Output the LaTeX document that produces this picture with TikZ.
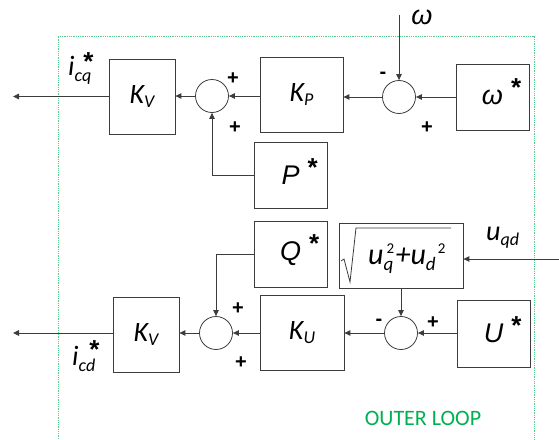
\documentclass[tikz,border=0pt]{standalone}
\usepackage{fontspec}
\setmainfont{Carlito}
\newfontfamily\arialf{Liberation Sans}
\usetikzlibrary{arrows.meta}
\newcommand\fsz[1]{\fontsize{#1}{#1}\selectfont}
\definecolor{lc}{RGB}{60,60,60}
\definecolor{gtext}{RGB}{0,176,80}
\definecolor{gframe}{RGB}{90,200,140}
\newcommand\Klab[1]{{\fsz{28}\itshape K\raisebox{-4.5pt}{\fsz{18}#1}}}
\newcommand\astr[1]{\raisebox{#1}{\arialf\bfseries\upshape\fsz{26}*}}
\newcommand\starlab[1]{{\arialf\itshape\fsz{27}#1\rlap{\smash{\hspace{8pt}\astr{8pt}}}}}
\newcommand\sqsub[3]{\makebox[#3][l]{\rlap{\raisebox{-6pt}{\fsz{19}#1}}\hspace{#2}\raisebox{11pt}{\upshape\fsz{15}2}}}
\begin{document}
\begin{tikzpicture}[x=1pt,y=-1pt,
  blk/.style={draw=lc,line width=0.8pt,inner sep=0pt,text=black},
  sumc/.style={circle,draw=lc,line width=0.8pt,minimum size=33pt,inner sep=0pt},
  arr/.style={draw=lc,line width=0.9pt,-{Triangle[length=6pt,width=5.5pt]}},
  sgn/.style={font=\arialf\bfseries\fsz{20},inner sep=0pt},
  lab/.style={inner sep=0pt}]
\useasboundingbox (0,0) rectangle (559,439);
% frame
\draw[gframe, densely dotted, line width=0.8pt] (58,439) -- (58,36) -- (534,36) -- (534,439);
% top row
\node[blk,minimum width=66pt,minimum height=75pt] (kv1) at (142,96.5) {\Klab{V}};
\node[blk,minimum width=83pt,minimum height=75pt] (kp) at (301.5,94.5) {\Klab{P}};
\node[blk,minimum width=73pt,minimum height=66pt] (ps) at (290.5,175) {\starlab{P}};
\node[blk,minimum width=73pt,minimum height=66pt] (ws) at (492.5,97) {\starlab{ω}};
\node[sumc] (s1) at (212,96) {};
\node[sumc] (s2) at (399,97) {};
% bottom row
\node[blk,minimum width=73pt,minimum height=66pt] (qs) at (290.5,254) {\starlab{Q}};
\node[blk,minimum width=124pt,minimum height=65pt] (sq) at (401,255.5) {};
\node[blk,minimum width=84pt,minimum height=75pt] (ku) at (302,332.5) {\Klab{U}};
\node[blk,minimum width=73pt,minimum height=67pt] (us) at (493.5,333.5) {\starlab{U}};
\node[sumc] (s4) at (401,333) {};
\node[sumc] (s3) at (216,333) {};
\node[blk,minimum width=66pt,minimum height=75pt] (kv2) at (146,334.5) {\Klab{V}};
% radical
\draw[lc,line width=0.8pt] (341,261) -- (344,259) -- (350,282) -- (356,228) -- (451,228);
\node[lab,anchor=base west] (rad) at (368,264) {\fsz{30}\itshape u\sqsub{q}{3pt}{12pt}+u\sqsub{d}{12pt}{22pt}};
% labels
\node[lab,anchor=base west] (icq) at (68,75) {\fsz{28}\itshape i\raisebox{-6pt}{\fsz{18}cq}\rlap{\smash{\hspace{-8pt}\astr{5pt}}}};
\node[lab,anchor=base west] (icd) at (72,365) {\fsz{28}\itshape i\raisebox{-6pt}{\fsz{18}cd}\rlap{\smash{\hspace{-6pt}\astr{7pt}}}};
\node[lab,anchor=base west] (uqd) at (486,240) {\fsz{28}\itshape u\raisebox{-5pt}{\fsz{18}qd}};
\node[lab] (wl) at (422,17) {\arialf\itshape\fsz{27}ω};
\node[text=gtext,font=\fsz{22},lab] (ol) at (423,418) {OUTER LOOP};
% signs
\node[sgn] (p1) at (233,79) {+};
\node[sgn] (p2) at (235,128) {+};
\node[sgn] (m1) at (383,75) {-};
\node[sgn] (p3) at (427,128) {+};
\node[sgn] (p4) at (238,309) {+};
\node[sgn] (p5) at (241,363) {+};
\node[sgn] (m2) at (379,322) {-};
\node[sgn] (p6) at (433,323) {+};
% connectors top
\coordinate (o1) at (13,96.5);
\coordinate (win) at (399,15);
\draw[arr] (s1.west) -- (s1.west -| kv1.east);
\draw[arr] (kv1.west) -- (o1);
\draw[arr] (kp.west |- s1.east) -- (s1.east);
\draw[arr] (ps.west) -| (s1.south);
\draw[arr] (win) -- (s2.north);
\draw[arr] (s2.west) -- (s2.west -| kp.east);
\draw[arr] (ws.west) -- (s2.east);
% connectors bottom
\coordinate (uin) at (559,259);
\coordinate (o2) at (13,333);
\draw[arr] (uin) -- (uin -| sq.east);
\draw[arr] (sq.south) -- (s4.north);
\draw[arr] (us.west |- s4.east) -- (s4.east);
\draw[arr] (s4.west) -- (s4.west -| ku.east);
\draw[arr] (ku.west |- s3.east) -- (s3.east);
\draw[arr] (qs.west) -| (s3.north);
\draw[arr] (s3.west) -- (s3.west -| kv2.east);
\draw[arr] (kv2.west |- o2) -- (o2);
\end{tikzpicture}
\end{document}
